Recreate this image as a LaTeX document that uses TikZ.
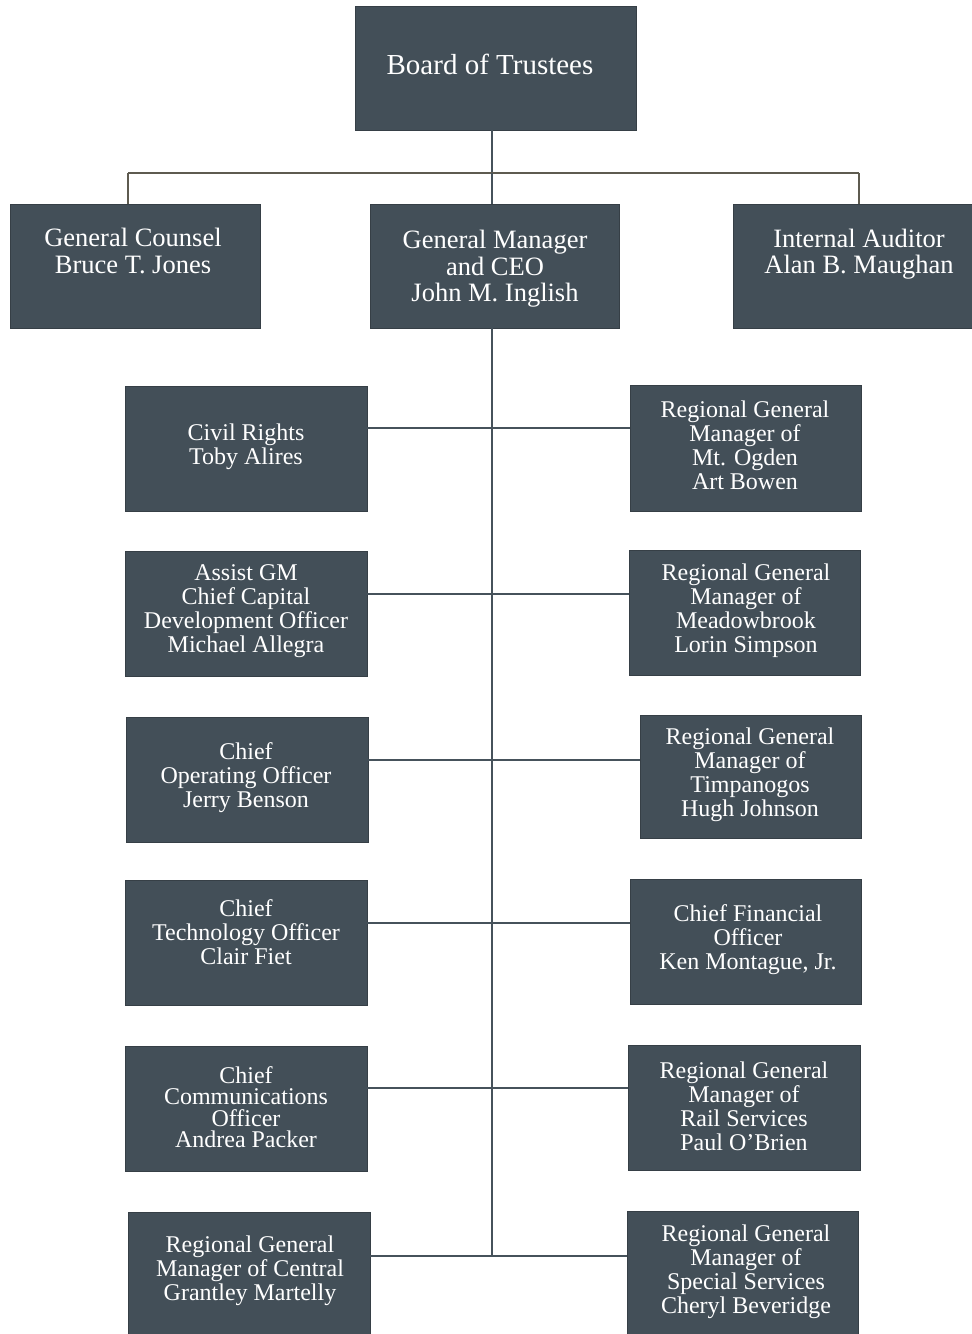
\documentclass[tikz,border=0pt]{standalone}
\usepackage{fontspec}
\setmainfont{Liberation Serif}
\definecolor{boxfill}{HTML}{434F58}
\definecolor{boxedge}{HTML}{363F46}
\definecolor{topline}{HTML}{5E5B50}
\definecolor{spinecol}{HTML}{46525B}
\newcommand{\orgbox}[5]{%
  \node[orgrect, minimum width={(#4-#2)*1pt}, minimum height={(#5-#3)*1pt}] (#1) at ({(#2+#4)/2},{(#3+#5)/2}) {};}
\tikzset{
  orgrect/.style={draw=boxedge, fill=boxfill, line width=1pt, inner sep=0pt, outer sep=0pt, rectangle},
  orgtxt/.style={text=white, align=center, inner sep=0pt, font=\fontsize{24}{24}\selectfont},
  toptxt/.style={text=white, align=center, inner sep=0pt, font=\fontsize{26.5}{26.5}\selectfont},
  conn/.style={draw=spinecol, line width=2.2pt},
  topconn/.style={draw=topline, line width=2.2pt},
}
\begin{document}
\begin{tikzpicture}[x=1pt, y=-1pt]
\useasboundingbox (0,0) rectangle (972,1334);
\clip (0,0) rectangle (972,1334);
\fill[white] (0,0) rectangle (972,1334);
% junction coordinates
\coordinate (j0) at (492,173);
\coordinate (jl) at (128,173);
\coordinate (jr) at (859,173);
\coordinate (r1) at (492,428);
\coordinate (r2) at (492,594);
\coordinate (r3) at (492,760);
\coordinate (r4) at (492,923);
\coordinate (r5) at (492,1088);
\coordinate (r6) at (492,1256);
% boxes
\orgbox{board}{355}{6}{636}{130}
\orgbox{gc}{10}{204}{260}{328}
\orgbox{gm}{370}{204}{619}{328}
\orgbox{ia}{733}{204}{975}{328}
\orgbox{cr}{125}{386}{367}{511}
\orgbox{agm}{125}{551}{367}{676}
\orgbox{coo}{126}{717}{368}{842}
\orgbox{cto}{125}{880}{367}{1005}
\orgbox{cco}{125}{1046}{367}{1171}
\orgbox{cen}{128}{1212}{370}{1345}
\orgbox{mo}{630}{385}{861}{511}
\orgbox{mb}{629}{550}{860}{675}
\orgbox{tp}{640}{715}{861}{838}
\orgbox{cfo}{630}{879}{861}{1004}
\orgbox{rail}{628}{1045}{860}{1170}
\orgbox{spec}{627}{1211}{858}{1345}
% connectors
\draw[conn] (board.south -| j0) -- (j0);
\draw[topconn] (jl) -- (jr);
\draw[topconn] (jl) -- (gc.north -| jl);
\draw[topconn] (jr) -- (ia.north -| jr);
\draw[conn] (j0) -- (gm.north -| j0);
\draw[conn] (gm.south -| j0) -- (r6);
\draw[conn] (cr.east |- r1) -- (mo.west |- r1);
\draw[conn] (agm.east |- r2) -- (mb.west |- r2);
\draw[conn] (coo.east |- r3) -- (tp.west |- r3);
\draw[conn] (cto.east |- r4) -- (cfo.west |- r4);
\draw[conn] (cco.east |- r5) -- (rail.west |- r5);
\draw[conn] (cen.east |- r6) -- (spec.west |- r6);
% texts
\node[orgtxt, font=\fontsize{29}{29}\selectfont] at (490,64) {Board of Trustees};
\node[toptxt] at (133,251) {General Counsel\\Bruce T. Jones};
\node[toptxt] at (495,269) {General Manager\\and CEO\\John M. Inglish};
\node[toptxt] at (859,254) {Internal Auditor\\Alan B. Maughan};
\node[orgtxt] at (246,447) {Civil Rights\\Toby Alires};
\node[orgtxt] at (246,611) {Assist GM\\Chief Capital\\Development Officer\\Michael Allegra};
\node[orgtxt] at (246,778) {Chief\\Operating Officer\\Jerry Benson};
\node[orgtxt] at (246,932) {Chief\\Technology Officer\\Clair Fiet};
\node[orgtxt, font=\fontsize{24}{21.5}\selectfont] at (246,1107) {Chief\\Communications\\Officer\\Andrea Packer};
\node[orgtxt] at (250,1271) {Regional General\\Manager of Central\\Grantley Martelly};
\node[orgtxt] at (745,445) {Regional General\\Manager of\\Mt. Ogden\\Art Bowen};
\node[orgtxt] at (746,611) {Regional General\\Manager of\\Meadowbrook\\Lorin Simpson};
\node[orgtxt] at (750,775) {Regional General\\Manager of\\Timpanogos\\Hugh Johnson};
\node[orgtxt] at (748,940) {Chief Financial\\Officer\\Ken Montague, Jr.};
\node[orgtxt] at (744,1106) {Regional General\\Manager of\\Rail Services\\Paul O’Brien};
\node[orgtxt] at (746,1272) {Regional General\\Manager of\\Special Services\\Cheryl Beveridge};
\end{tikzpicture}
\end{document}
